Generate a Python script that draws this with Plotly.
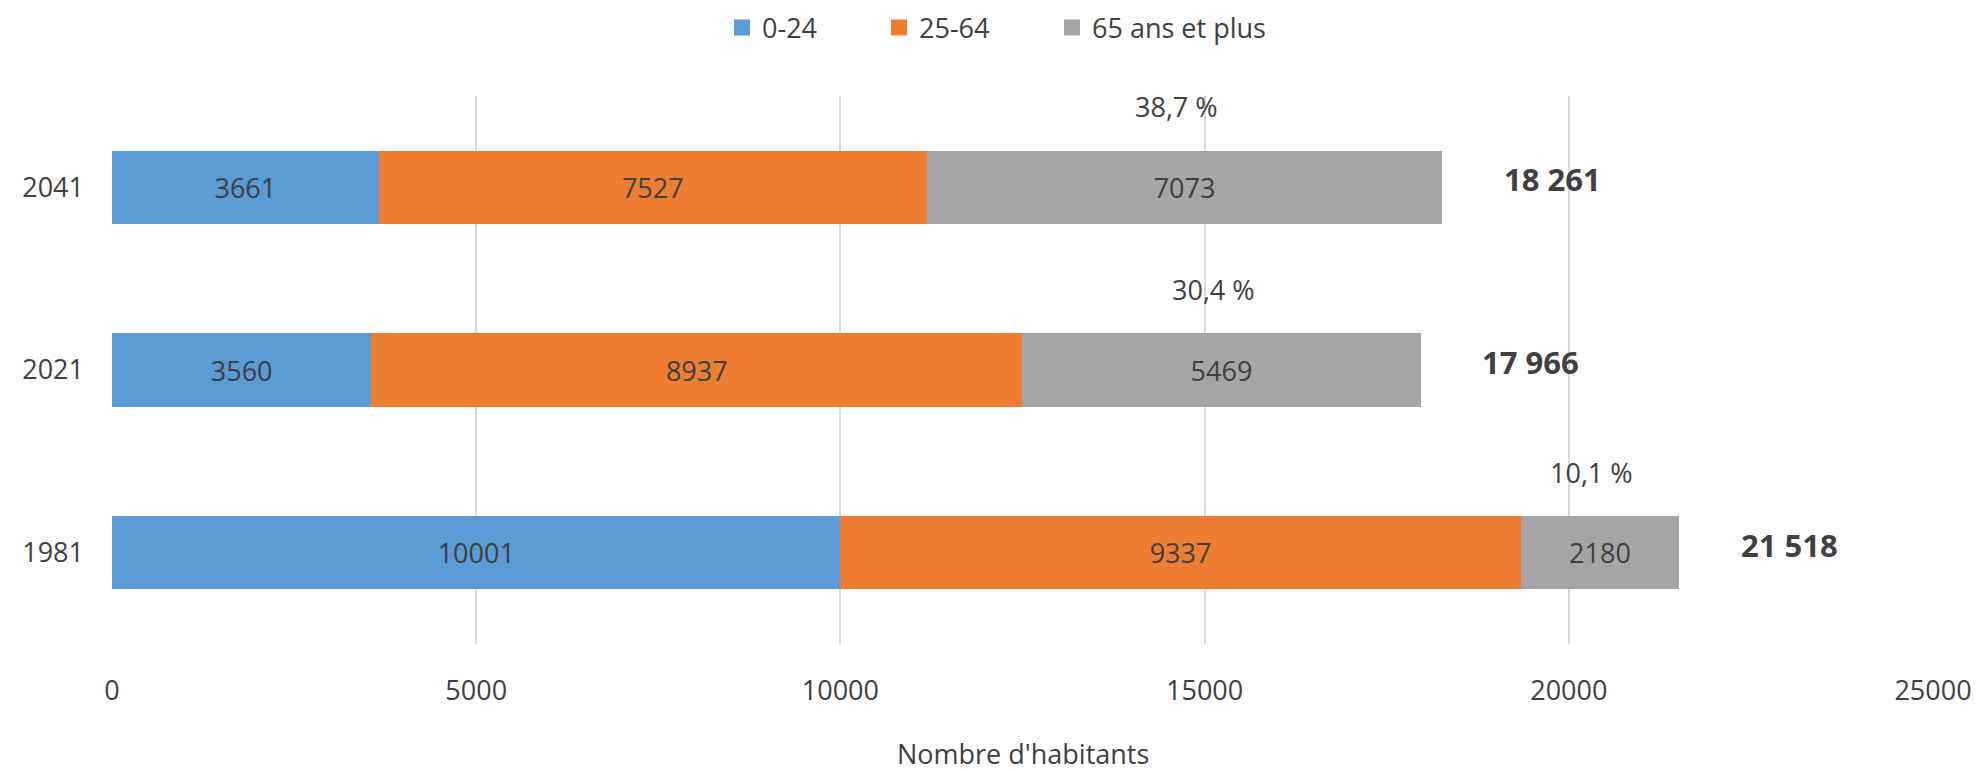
import plotly.graph_objects as go

years = ["1981", "2021", "2041"]
age_0_24 = [10001, 3560, 3661]
age_25_64 = [9337, 8937, 7527]
age_65_plus = [2180, 5469, 7073]
totals_lbl = ["21 518", "17 966", "18 261"]
pct_65 = ["10,1 %", "30,4 %", "38,7 %"]
series_names = ["0-24", "25-64", "65 ans et plus"]
colors = ["#5B9BD5", "#ED7D31", "#A5A5A5"]
x_title = "Nombre d'habitants"

FONT = "Open Sans"
TXT = "#404040"
W, H = 1977, 763  # page body has an 8px margin in the 1985x771 window

fig = go.Figure()
for name, vals, col in zip(series_names, [age_0_24, age_25_64, age_65_plus], colors):
    fig.add_trace(go.Bar(
        y=years, x=vals, name=name, orientation="h", showlegend=False,
        marker=dict(color=col, line=dict(width=0)),
        text=[str(v) for v in vals], textposition="inside",
        insidetextanchor="middle", textangle=0,
        textfont=dict(family=FONT, size=27, color=TXT),
    ))

# legend entries (one legend per entry so spacing matches the reference)
legend_x = [714, 871, 1044]
for k, (name, col) in enumerate(zip(series_names, colors)):
    lname = "legend" if k == 0 else f"legend{k + 1}"
    fig.add_trace(go.Scatter(
        x=[None], y=[None], mode="markers", name=name, legend=lname,
        marker=dict(symbol="square", size=18, color=col),
    ))
    fig.update_layout(**{lname: dict(
        orientation="h", x=legend_x[k] / W, xanchor="left", xref="container",
        y=1 - 20 / H, yanchor="middle", yref="container",
        font=dict(family=FONT, size=27, color=TXT), bgcolor="rgba(0,0,0,0)",
    )})

totals = [a + b + c for a, b, c in zip(age_0_24, age_25_64, age_65_plus)]
for i, y in enumerate(years):
    fig.add_annotation(x=totals[i], y=i, xref="x", yref="y",
                       text="<b>" + totals_lbl[i] + "</b>",
                       xanchor="center", xshift=110, yshift=8, showarrow=False,
                       font=dict(family=FONT, size=31, color=TXT))
    start = age_0_24[i] + age_25_64[i]
    fig.add_annotation(x=start + age_65_plus[i] / 2, y=i + 0.44, xref="x", yref="y",
                       text=pct_65[i], showarrow=False, xshift=-8,
                       font=dict(family=FONT, size=27, color=TXT))

# x-axis title (placed as an annotation so it is not squeezed into the margin)
fig.add_annotation(x=0.5, y=-(745 - 636) / 548, xref="paper", yref="paper",
                   text=x_title, showarrow=False, xanchor="center", yanchor="middle",
                   borderpad=0,
                   font=dict(family=FONT, size=27, color=TXT))

fig.update_layout(
    template="none",
    width=W, height=H,
    barmode="stack", bargap=0.6,
    plot_bgcolor="white", paper_bgcolor="white",
    margin=dict(l=104, r=52, t=88, b=127),
    font=dict(family=FONT, color=TXT),
    xaxis=dict(range=[0, 25000], dtick=5000, tickformat="d", showgrid=True,
               gridcolor="#D9D9D9", gridwidth=1.5, zeroline=False, showline=False,
               ticks="", automargin=False,
               tickfont=dict(family=FONT, size=27, color=TXT),
               ticklabelstandoff=28),
    yaxis=dict(type="category", categoryorder="array", categoryarray=years,
               range=[-0.5, 2.5], showgrid=False, zeroline=False, showline=False,
               ticks="", automargin=False,
               tickfont=dict(family=FONT, size=27, color=TXT), ticklabelstandoff=27),
)

fig.write_html("out.html")
